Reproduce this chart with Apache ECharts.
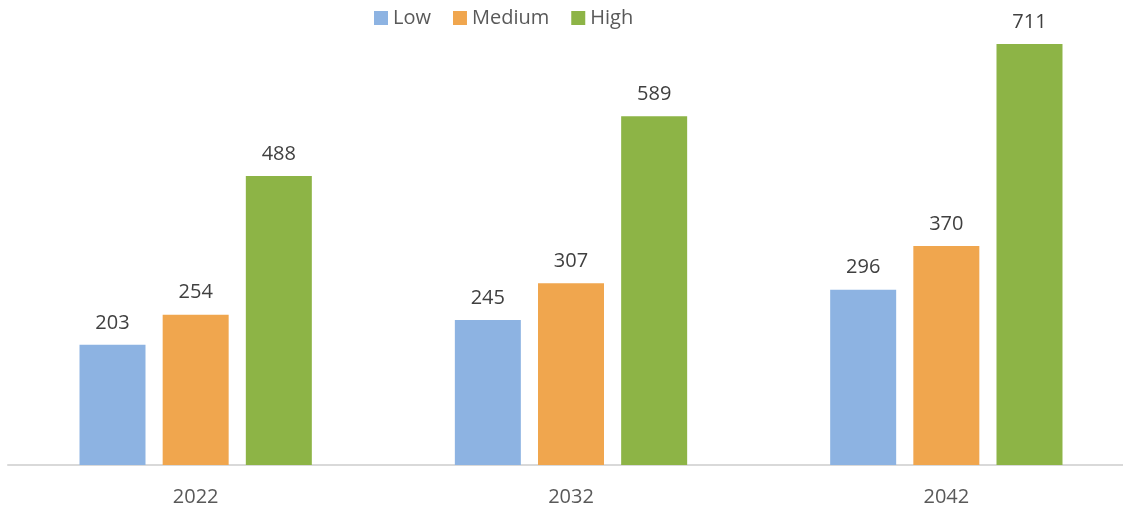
<!DOCTYPE html>
<html><head><meta charset="utf-8">
<script src="https://cdn.jsdelivr.net/npm/echarts@6/dist/echarts.min.js"></script>
<style>html,body{margin:0;padding:0;background:#fff;overflow:hidden}#c{width:1134px;height:510px}</style>
</head><body><div id="c"></div>
<script>
const categories = ['2022', '2032', '2042'];
const lowValues = [203, 245, 296];
const mediumValues = [254, 307, 370];
const highValues = [488, 589, 711];
const seriesNames = ['Low', 'Medium', 'High'];

const chart = echarts.init(document.getElementById('c'));
const font = 'Open Sans';
const label = {show: true, position: 'top', distance: 12, color: '#404040', fontSize: 20, fontFamily: font};
chart.setOption({
  animation: false,
  legend: {
    top: 3, left: 369, itemWidth: 14, itemHeight: 14, itemGap: 22,
    icon: 'rect',
    textStyle: {color: '#595959', fontSize: 20, fontFamily: font},
    data: seriesNames
  },
  grid: {left: 8, top: 21, bottom: 45, right: 0},
  xAxis: {
    type: 'category', data: categories,
    axisLine: {lineStyle: {color: '#d9d9d9', width: 2}},
    axisTick: {show: false},
    axisLabel: {color: '#595959', fontSize: 20, fontFamily: font, margin: 22}
  },
  yAxis: {type: 'value', min: 0, max: 750, show: false, splitLine: {show: false}},
  series: [
    {name: seriesNames[0], type: 'bar', data: lowValues, barWidth: 66, barGap: '26%', itemStyle: {color: '#8DB3E2'}, label},
    {name: seriesNames[1], type: 'bar', data: mediumValues, barWidth: 66, barGap: '26%', itemStyle: {color: '#F0A64E'}, label},
    {name: seriesNames[2], type: 'bar', data: highValues, barWidth: 66, barGap: '26%', itemStyle: {color: '#8DB446'}, label}
  ]
});
</script></body></html>
